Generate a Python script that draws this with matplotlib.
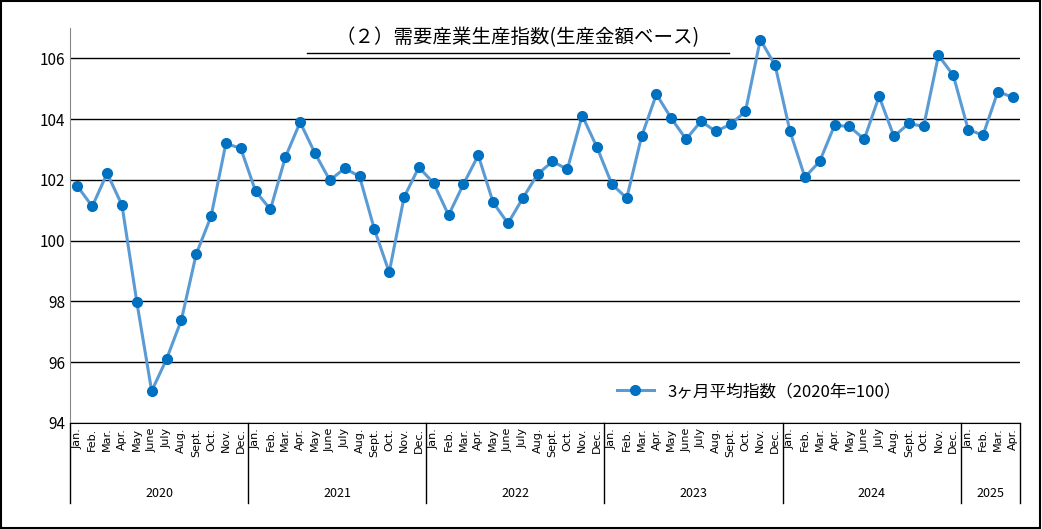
import matplotlib.pyplot as plt

plt.rcParams['font.family'] = ['Noto Sans CJK JP']

years = ['2020', '2021', '2022', '2023', '2024', '2025']
months = ['Jan.', 'Feb.', 'Mar.', 'Apr.', 'May', 'June', 'July', 'Aug.', 'Sept.', 'Oct.', 'Nov.', 'Dec.']
values = [
    101.79, 101.13, 102.22, 101.17, 97.98, 95.05, 96.10, 97.39, 99.56, 100.80, 103.20, 103.04,
    101.63, 101.03, 102.74, 103.90, 102.88, 101.99, 102.38, 102.12, 100.38, 98.96, 101.43, 102.42,
    101.89, 100.84, 101.86, 102.81, 101.26, 100.57, 101.40, 102.19, 102.61, 102.35, 104.12, 103.07,
    101.86, 101.40, 103.43, 104.82, 104.03, 103.34, 103.93, 103.60, 103.83, 104.26, 106.62, 105.77,
    103.60, 102.09, 102.61, 103.80, 103.76, 103.34, 104.75, 103.43, 103.86, 103.76, 106.10, 105.44,
    103.66, 103.47, 104.91, 104.72,
]
labels = [months[i % 12] for i in range(len(values))]

fig = plt.figure(figsize=(10.42, 5.29), dpi=100)
ax = fig.add_axes([0.0672, 0.2004, 0.9118, 0.7466])
x = list(range(len(values)))
ax.plot(x, values, color='#5B9BD5', lw=2.2, marker='o', ms=7,
        mfc='#0070C0', mec='#0070C0', label='3ヶ月平均指数（2020年=100）')
ax.set_xlim(-0.5, len(values) - 0.5)
ax.set_ylim(94, 107)
ax.set_yticks(range(94, 107, 2))
ax.tick_params(axis='y', length=0, labelsize=11)
ax.yaxis.grid(True, color='black', lw=1)
ax.set_axisbelow(True)
for s in ['top', 'right']:
    ax.spines[s].set_visible(False)
ax.spines['left'].set_color('#888888')
ax.set_xticks([])

for i, lab in enumerate(labels):
    ax.text(i, -0.012, lab, transform=ax.get_xaxis_transform(), rotation=90,
            ha='center', va='top', fontsize=8, family='DejaVu Sans')

bounds = [-0.5]
for k in range(len(years)):
    bounds.append(min(bounds[-1] + 12, len(values) - 0.5))
for b in bounds:
    ax.plot([b, b], [0, -0.2025], transform=ax.get_xaxis_transform(),
            color='black', lw=1, clip_on=False)
for k, yr in enumerate(years):
    ax.text((bounds[k] + bounds[k + 1]) / 2, -0.178, yr, transform=ax.get_xaxis_transform(),
            ha='center', va='center', fontsize=9)

ax.legend(loc='lower left', bbox_to_anchor=(0.56, 0.02), frameon=False, fontsize=12,
          handlelength=2.2)

fig.text(0.497, 0.928, '（２）需要産業生産指数(生産金額ベース)', ha='center', va='center', fontsize=14)
fig.add_artist(plt.Line2D([0.295, 0.70], [0.9, 0.9], color='black', lw=1))
fig.add_artist(plt.Rectangle((0.001, 0.001), 0.997, 0.997, fill=False, ec='black', lw=1.5))

fig.savefig('out.png')
